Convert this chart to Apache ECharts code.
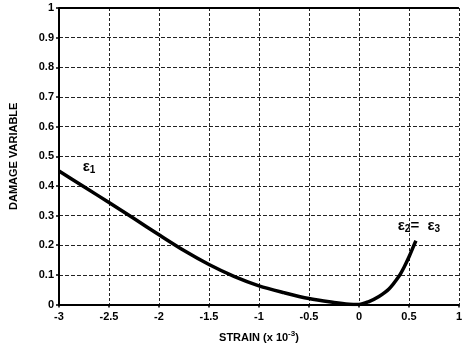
<!DOCTYPE html>
<html><head><meta charset="utf-8">
<script src="https://cdn.jsdelivr.net/npm/echarts@6/dist/echarts.min.js"></script>
<style>html,body{margin:0;padding:0;background:#fff}#c{width:465px;height:348px}</style>
</head><body><div id="c"></div>
<script>
const strain = [-3, -2.75, -2.5, -2.25, -2, -1.75, -1.5, -1.25, -1, -0.75, -0.5, -0.25, -0.1, 0, 0.1, 0.2, 0.3, 0.4, 0.45, 0.5, 0.55, 0.57];
const damage = [0.45, 0.397, 0.344, 0.29, 0.235, 0.182, 0.135, 0.095, 0.063, 0.04, 0.02, 0.007, 0.001, 0.0, 0.01, 0.027, 0.052, 0.095, 0.125, 0.16, 0.2, 0.215];
const xTicks = [-3, -2.5, -2, -1.5, -1, -0.5, 0, 0.5, 1];
const yTicks = [0, 0.1, 0.2, 0.3, 0.4, 0.5, 0.6, 0.7, 0.8, 0.9, 1];
const labels = [{x: -2.7, y: 0.465, t: 'eps1'}, {x: 0.6, y: 0.265, t: 'eps23'}];

const FONT = 'Liberation Sans';
const chart = echarts.init(document.getElementById('c'));
const fmt = v => String(v);
const rich = {
  e: {fontFamily: FONT, fontWeight: 'bold', fontSize: 15, color: '#000'},
  s: {fontFamily: FONT, fontWeight: 'bold', fontSize: 10, color: '#000', verticalAlign: 'bottom', padding: [7, 0, 0, 0]}
};
chart.setOption({
  animation: false,
  grid: {left: 56, right: 2, top: 8, bottom: 41},
  xAxis: {
    type: 'value', min: -3, max: 1, interval: 0.5,
    axisLine: {show: true, onZero: false, lineStyle: {color: '#000', width: 2}},
    axisTick: {show: true, length: 3, lineStyle: {color: '#000', width: 1.5}},
    axisLabel: {color: '#000', fontFamily: FONT, fontWeight: 'bold', fontSize: 11, margin: 7, formatter: v => fmt(v)},
    splitLine: {show: true, lineStyle: {color: '#222', type: [3, 2], width: 1}},
    name: '{a|STRAIN (x 10}{b|-3}{a|)}', nameLocation: 'middle', nameGap: 25,
    nameTextStyle: {rich: {
      a: {fontFamily: FONT, fontWeight: 'bold', fontSize: 11, color: '#000'},
      b: {fontFamily: FONT, fontWeight: 'bold', fontSize: 8, color: '#000', verticalAlign: 'top', padding: [0, 0, 8, 0]}
    }}
  },
  yAxis: {
    type: 'value', min: 0, max: 1, interval: 0.1,
    axisLine: {show: true, onZero: false, lineStyle: {color: '#000', width: 2}},
    axisTick: {show: true, length: 3, lineStyle: {color: '#000', width: 1.5}},
    axisLabel: {color: '#000', fontFamily: FONT, fontWeight: 'bold', fontSize: 11, margin: 5, formatter: v => fmt(Math.round(v * 10) / 10)},
    splitLine: {show: true, lineStyle: {color: '#222', type: [4, 2], width: 1}},
    name: 'DAMAGE VARIABLE', nameLocation: 'middle', nameGap: 40, nameRotate: 90,
    nameTextStyle: {fontFamily: FONT, fontWeight: 'bold', fontSize: 11, color: '#000'}
  },
  series: [{
    type: 'line', data: strain.map((x, i) => [x, damage[i]]), smooth: 0.3, showSymbol: false,
    lineStyle: {color: '#000', width: 3.5},
    markPoint: {
      symbol: 'circle', symbolSize: 0,
      data: labels.map(l => ({coord: [l.x, l.y], value: l.t})),
      label: {
        show: true, position: 'inside',
        formatter: p => p.value === 'eps1' ? '{e|ε}{s|1}' : '{e|ε}{s|2}{e|=  ε}{s|3}',
        rich: rich
      }
    }
  }, {
    type: 'line', data: [[-3, 1], [1, 1]], showSymbol: false, silent: true,
    lineStyle: {color: '#000', width: 2}
  }]
});
</script></body></html>
